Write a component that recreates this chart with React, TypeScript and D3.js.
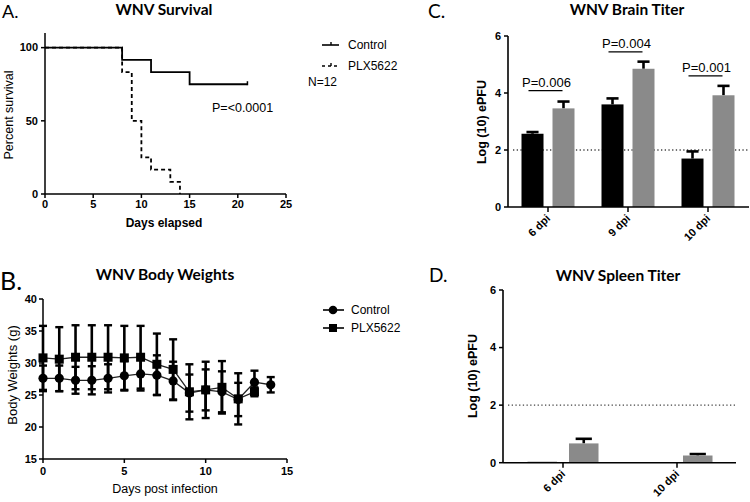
import React from 'react';
import * as d3 from 'd3';

// ---------- Panel A: survival ----------
const survDaysControl = [0, 8, 11, 15, 21];
const survControl = [100, 91.7, 83.3, 75, 75];
const survDaysPlx = [0, 8, 9, 10, 11, 13, 14];
const survPlx = [100, 83.3, 50, 25, 16.7, 8.3, 0];
const survXTicks = [0, 5, 10, 15, 20, 25];
const survYTicks = [0, 50, 100];

// ---------- Panel B: body weights ----------
const bwDaysControl = [0, 1, 2, 3, 4, 5, 6, 7, 8, 9, 10, 11, 12, 13, 14];
const bwControl = [27.6, 27.6, 27.3, 27.3, 27.6, 28.0, 28.3, 28.1, 27.2, 25.3, 25.8, 25.5, 24.3, 27.0, 26.6];
const bwControlSd = [2.0, 2.0, 2.1, 2.2, 2.2, 2.3, 2.6, 3.1, 3.0, 2.9, 3.2, 3.2, 2.6, 1.8, 1.2];
const bwDaysPlx = [0, 1, 2, 3, 4, 5, 6, 7, 8, 9, 10, 11, 12, 13];
const bwPlx = [30.8, 30.6, 30.9, 30.9, 30.9, 30.8, 30.9, 29.8, 29.0, 25.5, 25.8, 26.2, 24.4, 25.5];
const bwPlxSd = [5.0, 5.0, 5.0, 5.0, 5.0, 5.0, 4.9, 4.8, 4.7, 4.3, 4.4, 4.1, 4.0, 0.7];
const bwXTicks = [0, 5, 10, 15];
const bwYTicks = [15, 20, 25, 30, 35, 40];

// ---------- Panel C: brain titer ----------
const brainCats = ['6 dpi', '9 dpi', '10 dpi'];
const brainControl = [2.57, 3.6, 1.7];
const brainControlErr = [0.06, 0.21, 0.25];
const brainPlx = [3.46, 4.85, 3.92];
const brainPlxErr = [0.24, 0.25, 0.33];
const brainPLabels = ['P=0.006', 'P=0.004', 'P=0.001'];
const brainPLevels = [4.08, 5.44, 4.6];

// ---------- Panel D: spleen titer ----------
const spleenCats = ['6 dpi', '10 dpi'];
const spleenControl = [0.03, 0];
const spleenControlErr = [0, 0];
const spleenPlx = [0.67, 0.25];
const spleenPlxErr = [0.16, 0.05];

const titerYTicks = [0, 2, 4, 6];
const seriesNames = ['Control', 'PLX5622'];
const limitOfDetection = 2;

const TICK = "'Liberation Sans', Arial, sans-serif";
const TITLE = "Lato, 'Open Sans', sans-serif";
const GRAY = '#8a8a8a';

function PanelA() {
  const x = d3.scaleLinear().domain([0, 25]).range([45, 286]);
  const y = d3.scaleLinear().domain([0, 110]).range([194, 33]);
  const line = d3.line<[number, number]>().x(d => x(d[0])).y(d => y(d[1])).curve(d3.curveStepAfter);
  const ctrlPts = survDaysControl.map((d, i) => [d, survControl[i]] as [number, number]);
  const plxPts = survDaysPlx.map((d, i) => [d, survPlx[i]] as [number, number]);
  const last = ctrlPts[ctrlPts.length - 1];
  return (
    <g>
      <text x={2} y={18} fontFamily={TITLE} fontSize={18}>A.</text>
      <text x={164} y={15} textAnchor="middle" fontFamily={TITLE} fontWeight="bold" fontSize={15.5}>WNV Survival</text>
      <line x1={x(0)} x2={x(0)} y1={y(110)} y2={y(0)} stroke="#000" strokeWidth={1.5} />
      <line x1={x(0)} x2={x(25)} y1={y(0)} y2={y(0)} stroke="#000" strokeWidth={1.5} />
      {survYTicks.map(t => (
        <g key={t}>
          <line x1={x(0) - 4} x2={x(0)} y1={y(t)} y2={y(t)} stroke="#000" strokeWidth={1.5} />
          <text x={x(0) - 7} y={y(t)} dy="0.35em" textAnchor="end" fontFamily={TICK} fontWeight="bold" fontSize={11}>{t}</text>
        </g>
      ))}
      {survXTicks.map(t => (
        <g key={t}>
          <line x1={x(t)} x2={x(t)} y1={y(0)} y2={y(0) + 4} stroke="#000" strokeWidth={1.5} />
          <text x={x(t)} y={208} textAnchor="middle" fontFamily={TICK} fontWeight="bold" fontSize={11}>{t}</text>
        </g>
      ))}
      <text x={164} y={227} textAnchor="middle" fontFamily={TICK} fontWeight="bold" fontSize={12}>Days elapsed</text>
      <text transform="translate(13,115) rotate(-90)" textAnchor="middle" fontFamily={TICK} fontSize={12.5}>Percent survival</text>
      <path d={line(ctrlPts) || ''} fill="none" stroke="#000" strokeWidth={1.8} />
      <line x1={x(last[0])} x2={x(last[0])} y1={y(last[1]) - 3} y2={y(last[1]) + 1} stroke="#000" strokeWidth={1.5} />
      <path d={line(plxPts) || ''} fill="none" stroke="#000" strokeWidth={1.8} strokeDasharray="4,3" />
      <text x={212} y={112} fontFamily={TICK} fontSize={12.5}>P=&lt;0.0001</text>
      {/* legend */}
      <line x1={322} x2={339} y1={45} y2={45} stroke="#000" strokeWidth={1.6} />
      <line x1={331} x2={331} y1={42} y2={45} stroke="#000" strokeWidth={1.4} />
      <text x={348} y={49} fontFamily={TICK} fontSize={12}>{seriesNames[0]}</text>
      <line x1={322} x2={339} y1={66} y2={66} stroke="#000" strokeWidth={1.6} strokeDasharray="3,3" />
      <line x1={331} x2={331} y1={63} y2={66} stroke="#000" strokeWidth={1.4} />
      <text x={348} y={70} fontFamily={TICK} fontSize={12}>{seriesNames[1]}</text>
      <text x={308} y={86} fontFamily={TICK} fontSize={12}>N=12</text>
    </g>
  );
}

function PanelB() {
  const x = d3.scaleLinear().domain([0, 15]).range([43, 287]);
  const y = d3.scaleLinear().domain([15, 40]).range([459, 299]);
  const line = d3.line<[number, number]>().x(d => x(d[0])).y(d => y(d[1]));
  const ctrlPts = bwDaysControl.map((d, i) => [d, bwControl[i]] as [number, number]);
  const plxPts = bwDaysPlx.map((d, i) => [d, bwPlx[i]] as [number, number]);
  const errBar = (d: number, m: number, s: number, k: string) => (
    <g key={k}>
      <line x1={x(d)} x2={x(d)} y1={y(m - s)} y2={y(m + s)} stroke="#000" strokeWidth={2.6} />
      <line x1={x(d) - 4} x2={x(d) + 4} y1={y(m - s)} y2={y(m - s)} stroke="#000" strokeWidth={2.4} />
      <line x1={x(d) - 4} x2={x(d) + 4} y1={y(m + s)} y2={y(m + s)} stroke="#000" strokeWidth={2.4} />
    </g>
  );
  return (
    <g>
      <text x={0} y={290} fontFamily={TITLE} fontSize={25}>B.</text>
      <text x={165} y={280} textAnchor="middle" fontFamily={TITLE} fontWeight="bold" fontSize={15.5}>WNV Body Weights</text>
      <line x1={x(0)} x2={x(0)} y1={y(40)} y2={y(15)} stroke="#000" strokeWidth={1.5} />
      <line x1={x(0)} x2={x(15)} y1={y(15)} y2={y(15)} stroke="#000" strokeWidth={1.5} />
      {bwYTicks.map(t => (
        <g key={t}>
          <line x1={x(0) - 4} x2={x(0)} y1={y(t)} y2={y(t)} stroke="#000" strokeWidth={1.5} />
          <text x={x(0) - 6} y={y(t)} dy="0.35em" textAnchor="end" fontFamily={TICK} fontWeight="bold" fontSize={11}>{t}</text>
        </g>
      ))}
      {bwXTicks.map(t => (
        <g key={t}>
          <line x1={x(t)} x2={x(t)} y1={y(15)} y2={y(15) + 4} stroke="#000" strokeWidth={1.5} />
          <text x={x(t)} y={475} textAnchor="middle" fontFamily={TICK} fontWeight="bold" fontSize={11}>{t}</text>
        </g>
      ))}
      <text x={165} y={493} textAnchor="middle" fontFamily={TICK} fontSize={12.5}>Days post infection</text>
      <text transform="translate(17,375) rotate(-90)" textAnchor="middle" fontFamily={TICK} fontSize={13}>Body Weights (g)</text>
      {bwDaysPlx.map((d, i) => errBar(d, bwPlx[i], bwPlxSd[i], 'p' + i))}
      {bwDaysControl.map((d, i) => errBar(d, bwControl[i], bwControlSd[i], 'c' + i))}
      <path d={line(plxPts) || ''} fill="none" stroke="#222" strokeWidth={1.3} />
      <path d={line(ctrlPts) || ''} fill="none" stroke="#222" strokeWidth={1.3} />
      {plxPts.map((p, i) => (
        <rect key={'ps' + i} x={x(p[0]) - 4.5} y={y(p[1]) - 4.5} width={9} height={9} fill="#000" />
      ))}
      {ctrlPts.map((p, i) => (
        <circle key={'cc' + i} cx={x(p[0])} cy={y(p[1])} r={4.6} fill="#000" />
      ))}
      {/* legend */}
      <line x1={323} x2={344} y1={310} y2={310} stroke="#000" strokeWidth={1.6} />
      <circle cx={333} cy={310} r={4.3} fill="#000" />
      <text x={351} y={314} fontFamily={TICK} fontSize={12}>{seriesNames[0]}</text>
      <line x1={323} x2={344} y1={328} y2={328} stroke="#000" strokeWidth={1.6} />
      <rect x={329} y={324} width={8} height={8} fill="#000" />
      <text x={351} y={332} fontFamily={TICK} fontSize={12}>{seriesNames[1]}</text>
    </g>
  );
}

interface TiterProps {
  cats: string[];
  ctrl: number[];
  ctrlErr: number[];
  plx: number[];
  plxErr: number[];
  yRange: [number, number];
  xRange: [number, number];
  padInner: number;
  innerPad: number;
  axisX: [number, number];
  letter: string;
  letterPos: [number, number];
  title: string;
  titlePos: [number, number];
  yLabelPos: [number, number];
  labelDy: number;
  pLabels?: string[];
  pLevels?: number[];
}

function TiterPanel(p: TiterProps) {
  const y = d3.scaleLinear().domain([0, 6]).range(p.yRange);
  const x0 = d3.scaleBand<string>().domain(p.cats).range(p.xRange).paddingInner(p.padInner).paddingOuter(p.padInner / 2);
  const x1 = d3.scaleBand<string>().domain(seriesNames).range([0, x0.bandwidth()]).paddingInner(p.innerPad);
  const bw = x1.bandwidth();
  const y0 = y(0);
  const capW = bw * 0.55;
  const series = [
    { name: seriesNames[0], vals: p.ctrl, errs: p.ctrlErr, color: '#000' },
    { name: seriesNames[1], vals: p.plx, errs: p.plxErr, color: GRAY },
  ];
  return (
    <g>
      <text x={p.letterPos[0]} y={p.letterPos[1]} fontFamily={TITLE} fontSize={19}>{p.letter}</text>
      <text x={p.titlePos[0]} y={p.titlePos[1]} textAnchor="middle" fontFamily={TITLE} fontWeight="bold" fontSize={15.5}>{p.title}</text>
      <line x1={p.axisX[0] + 5} x2={p.axisX[1]} y1={y(limitOfDetection)} y2={y(limitOfDetection)} stroke="#444" strokeWidth={1.3} strokeDasharray="1.3,2.4" />
      {series.map(s => p.cats.map((c, i) => {
        const bx = (x0(c) || 0) + (x1(s.name) || 0);
        const v = s.vals[i];
        const e = s.errs[i];
        return (
          <g key={s.name + c}>
            {e > 0 && (
              <g>
                <line x1={bx + bw / 2} x2={bx + bw / 2} y1={y(v)} y2={y(v + e)} stroke="#000" strokeWidth={2.6} />
                <line x1={bx + bw / 2 - capW / 2} x2={bx + bw / 2 + capW / 2} y1={y(v + e)} y2={y(v + e)} stroke="#000" strokeWidth={2.6} />
              </g>
            )}
            <rect x={bx} y={y(v)} width={bw} height={Math.max(0, y0 - y(v))} fill={s.color} />
          </g>
        );
      }))}
      <line x1={p.axisX[0]} x2={p.axisX[0]} y1={y(6)} y2={y0} stroke="#000" strokeWidth={1.6} />
      <line x1={p.axisX[0]} x2={p.axisX[1]} y1={y0} y2={y0} stroke="#000" strokeWidth={1.6} />
      {titerYTicks.map(t => (
        <g key={t}>
          <line x1={p.axisX[0] - 4} x2={p.axisX[0]} y1={y(t)} y2={y(t)} stroke="#000" strokeWidth={1.5} />
          <text x={p.axisX[0] - 7} y={y(t)} dy="0.35em" textAnchor="end" fontFamily={TICK} fontWeight="bold" fontSize={11}>{t}</text>
        </g>
      ))}
      {p.cats.map(c => {
        const cx = (x0(c) || 0) + x0.bandwidth() / 2;
        return (
          <g key={c}>
            <line x1={cx} x2={cx} y1={y0} y2={y0 + 5} stroke="#000" strokeWidth={1.5} />
            <text transform={`translate(${cx + 3},${y0 + p.labelDy}) rotate(-45)`} textAnchor="end" fontFamily={TICK} fontWeight="bold" fontSize={11}>{c}</text>
          </g>
        );
      })}
      <text transform={`translate(${p.yLabelPos[0]},${p.yLabelPos[1]}) rotate(-90)`} textAnchor="middle" fontFamily={TICK} fontWeight="bold" fontSize={12.5}>Log (10) ePFU</text>
      {p.pLabels && p.pLevels && p.cats.map((c, i) => {
        const xa = (x0(c) || 0) + (x1(seriesNames[0]) || 0) + bw / 2 - 4;
        const xb = (x0(c) || 0) + (x1(seriesNames[1]) || 0) + bw / 2 - 1;
        const ly = y(p.pLevels![i]);
        return (
          <g key={'p' + c}>
            <line x1={xa} x2={xb} y1={ly} y2={ly} stroke="#000" strokeWidth={1.3} />
            <text x={(xa + xb) / 2 + 1} y={ly - 4} textAnchor="middle" fontFamily={TICK} fontSize={13}>{p.pLabels![i]}</text>
          </g>
        );
      })}
    </g>
  );
}

export default function App() {
  return (
    <svg width={750} height={502} viewBox="0 0 750 502" style={{ position: 'absolute', left: 0, top: 0, background: '#fff' }}>
      <rect width={750} height={502} fill="#fff" />
      <PanelA />
      <PanelB />
      <TiterPanel
        cats={brainCats} ctrl={brainControl} ctrlErr={brainControlErr} plx={brainPlx} plxErr={brainPlxErr}
        yRange={[207, 36]} xRange={[508, 748]} padInner={0.3375} innerPad={0.29} axisX={[508, 749]}
        letter="C." letterPos={[428, 18]} title="WNV Brain Titer" titlePos={[627, 15]}
        yLabelPos={[486, 122]} labelDy={12} pLabels={brainPLabels} pLevels={brainPLevels}
      />
      <TiterPanel
        cats={spleenCats} ctrl={spleenControl} ctrlErr={spleenControlErr} plx={spleenPlx} plxErr={spleenPlxErr}
        yRange={[462.7, 290]} xRange={[506, 734]} padInner={0.377} innerPad={0.289} axisX={[503, 736]}
        letter="D." letterPos={[429, 282]} title="WNV Spleen Titer" titlePos={[618, 281]}
        yLabelPos={[477, 376]} labelDy={12}
      />
    </svg>
  );
}
